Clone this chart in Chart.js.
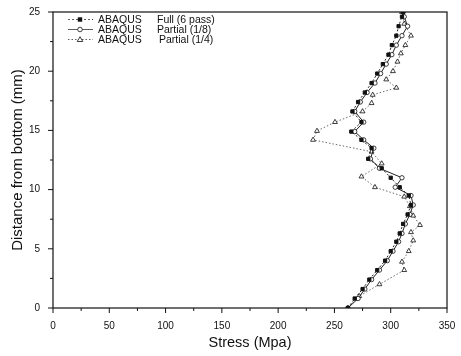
<!DOCTYPE html>
<html><head><meta charset="utf-8">
<script src="https://cdn.jsdelivr.net/npm/chart.js@4/dist/chart.umd.min.js"></script>
<style>html,body{margin:0;padding:0;background:#fff}#wrap{width:461px;height:356px}</style>
</head><body><div id="wrap"><canvas id="c" width="461" height="356"></canvas></div>
<script>
const seriesPrefix = "ABAQUS";
const seriesNames = ["Full (6 pass)", "Partial (1/8)", "Partial (1/4)"];
const fullY = [0, 0.8, 1.6, 2.4, 3.2, 4.0, 4.8, 5.6, 6.3, 7.1, 7.9, 8.7, 9.5, 10.2, 11.0, 11.8, 12.6, 13.5, 14.2, 14.9, 15.7, 16.6, 17.4, 18.2, 19.0, 19.8, 20.6, 21.4, 22.2, 23.0, 23.8, 24.6, 25.0];
const fullX = [262, 268, 275, 281, 288, 295, 300, 305, 308, 311, 315, 318, 316, 308, 300, 292, 280, 283, 274, 265, 274, 266, 271, 277, 283, 288, 293, 298, 301, 305, 307, 310, 311];
const p8Y = [0, 0.8, 1.6, 2.4, 3.2, 4.0, 4.8, 5.6, 6.3, 7.1, 7.9, 8.7, 9.5, 10.2, 11.0, 11.8, 12.6, 13.5, 14.2, 14.9, 15.7, 16.6, 17.4, 18.2, 19.0, 19.8, 20.6, 21.4, 22.2, 23.0, 23.8, 24.6, 25.0];
const p8X = [262, 271, 277, 283, 290, 297, 302, 307, 310, 313, 317, 320, 318, 304, 310, 290, 282, 285, 276, 268, 276, 268, 273, 279, 286, 291, 296, 301, 305, 310, 315, 312, 311];
const p4Y = [0, 1.0, 2.0, 3.2, 3.9, 4.8, 5.7, 6.4, 7.0, 7.8, 8.6, 9.4, 10.2, 11.1, 12.2, 13.2, 14.2, 14.95, 15.7, 16.6, 17.3, 18.0, 18.6, 19.3, 20.0, 20.8, 21.5, 22.2, 23.0, 24.0, 25.0];
const p4X = [262, 272, 290, 312, 310, 316, 320, 318, 326, 320, 317, 312, 286, 274, 292, 283, 231, 234.5, 250.5, 275, 283, 284, 305, 296, 302, 306, 309, 313, 318, 312, 310];
const xTicks = [0, 50, 100, 150, 200, 250, 300, 350];
const yTicks = [0, 5, 10, 15, 20, 25];

const toPts = (xs, ys) => xs.map((x, i) => ({x: x, y: ys[i]}));
const FONT = "'Liberation Sans', Arial, sans-serif";

const frame = {
  id: 'frame',
  afterDraw(chart) {
    const ctx = chart.ctx, a = chart.chartArea, xs = chart.scales.x, ys = chart.scales.y;
    ctx.save();
    ctx.strokeStyle = '#111'; ctx.lineWidth = 1.2;
    ctx.strokeRect(a.left, a.top, a.right - a.left, a.bottom - a.top);
    ctx.lineWidth = 1;
    for (let v = 0; v <= 350; v += 25) {
      const px = xs.getPixelForValue(v);
      const len = v % 50 === 0 ? 5 : 3;
      ctx.beginPath(); ctx.moveTo(px, a.bottom); ctx.lineTo(px, a.bottom + len); ctx.stroke();
    }
    for (let v = 0; v <= 25; v += 2.5) {
      const py = ys.getPixelForValue(v);
      const len = v % 5 === 0 ? 5 : 3;
      ctx.beginPath(); ctx.moveTo(a.left, py); ctx.lineTo(a.left - len, py); ctx.stroke();
    }
    // legend inside plot
    const ds = chart.data.datasets;
    const lx = 68, ly0 = 19.5, gap = 10;
    ctx.font = "10.5px " + FONT; ctx.fillStyle = '#111'; ctx.textBaseline = 'middle';
    ds.forEach((d, i) => {
      const y = ly0 + i * gap;
      ctx.beginPath(); ctx.setLineDash(d.borderDash || []);
      ctx.strokeStyle = '#333'; ctx.lineWidth = 0.8;
      ctx.moveTo(lx, y); ctx.lineTo(lx + 25, y); ctx.stroke(); ctx.setLineDash([]);
      const mx = lx + 12;
      ctx.lineWidth = 0.8; ctx.strokeStyle = '#111';
      if (d.pointStyle === 'rect') { ctx.fillStyle = '#111'; ctx.fillRect(mx - 2.2, y - 2.2, 4.4, 4.4); }
      else if (d.pointStyle === 'circle') { ctx.fillStyle = '#fff'; ctx.beginPath(); ctx.arc(mx, y, 2.3, 0, Math.PI * 2); ctx.fill(); ctx.stroke(); }
      else { ctx.fillStyle = '#fff'; ctx.beginPath(); ctx.moveTo(mx, y - 2.8); ctx.lineTo(mx + 2.8, y + 2); ctx.lineTo(mx - 2.8, y + 2); ctx.closePath(); ctx.fill(); ctx.stroke(); }
      ctx.fillStyle = '#111';
      ctx.fillText(seriesPrefix, 98, y + 0.5);
      ctx.fillText(seriesNames[i], i === 2 ? 159 : 157, y + 0.5);
    });
    ctx.restore();
  }
};

new Chart(document.getElementById('c'), {
  type: 'scatter',
  data: {
    datasets: [
      {label: seriesPrefix + '  ' + seriesNames[0], data: toPts(fullX, fullY), showLine: true, borderColor: '#222', backgroundColor: '#111',
       borderWidth: 1, borderDash: [2, 2], pointStyle: 'rect', pointRadius: 2.3, pointBorderColor: '#111', pointBackgroundColor: '#111'},
      {label: seriesPrefix + '  ' + seriesNames[1], data: toPts(p8X, p8Y), showLine: true, borderColor: '#222', backgroundColor: '#fff',
       borderWidth: 1, pointStyle: 'circle', pointRadius: 2.2, pointBorderColor: '#111', pointBackgroundColor: '#fff', pointBorderWidth: 0.8},
      {label: seriesPrefix + '  ' + seriesNames[2], data: toPts(p4X, p4Y), showLine: true, borderColor: '#444', backgroundColor: '#fff',
       borderWidth: 0.8, borderDash: [1.5, 2], pointStyle: 'triangle', pointRadius: 2.8, pointBorderColor: '#111', pointBackgroundColor: '#fff', pointBorderWidth: 0.8}
    ]
  },
  options: {
    responsive: false, animation: false, devicePixelRatio: 1,
    layout: {padding: {top: 12, right: 14, left: 5, bottom: 0}},
    plugins: {legend: {display: false}, tooltip: {enabled: false}},
    scales: {
      x: {type: 'linear', min: 0, max: 350,
          afterFit(s) { s.height = 48; },
          afterBuildTicks(s) { s.ticks = xTicks.map(v => ({value: v})); },
          grid: {display: false, drawOnChartArea: false}, border: {display: false},
          ticks: {color: '#111', font: {family: FONT, size: 10}, padding: 4, maxRotation: 0},
          title: {display: true, text: 'Stress (Mpa)', color: '#111', font: {family: FONT, size: 14.5}, padding: {top: 4}}},
      y: {type: 'linear', min: 0, max: 25,
          afterFit(s) { s.width = 48; },
          afterBuildTicks(s) { s.ticks = yTicks.map(v => ({value: v})); },
          grid: {display: false, drawOnChartArea: false}, border: {display: false},
          ticks: {color: '#111', font: {family: FONT, size: 10}, padding: 5},
          title: {display: true, text: 'Distance from bottom (mm)', color: '#111', font: {family: FONT, size: 15}, padding: {bottom: 2}}}
    }
  },
  plugins: [frame]
});
</script></body></html>
